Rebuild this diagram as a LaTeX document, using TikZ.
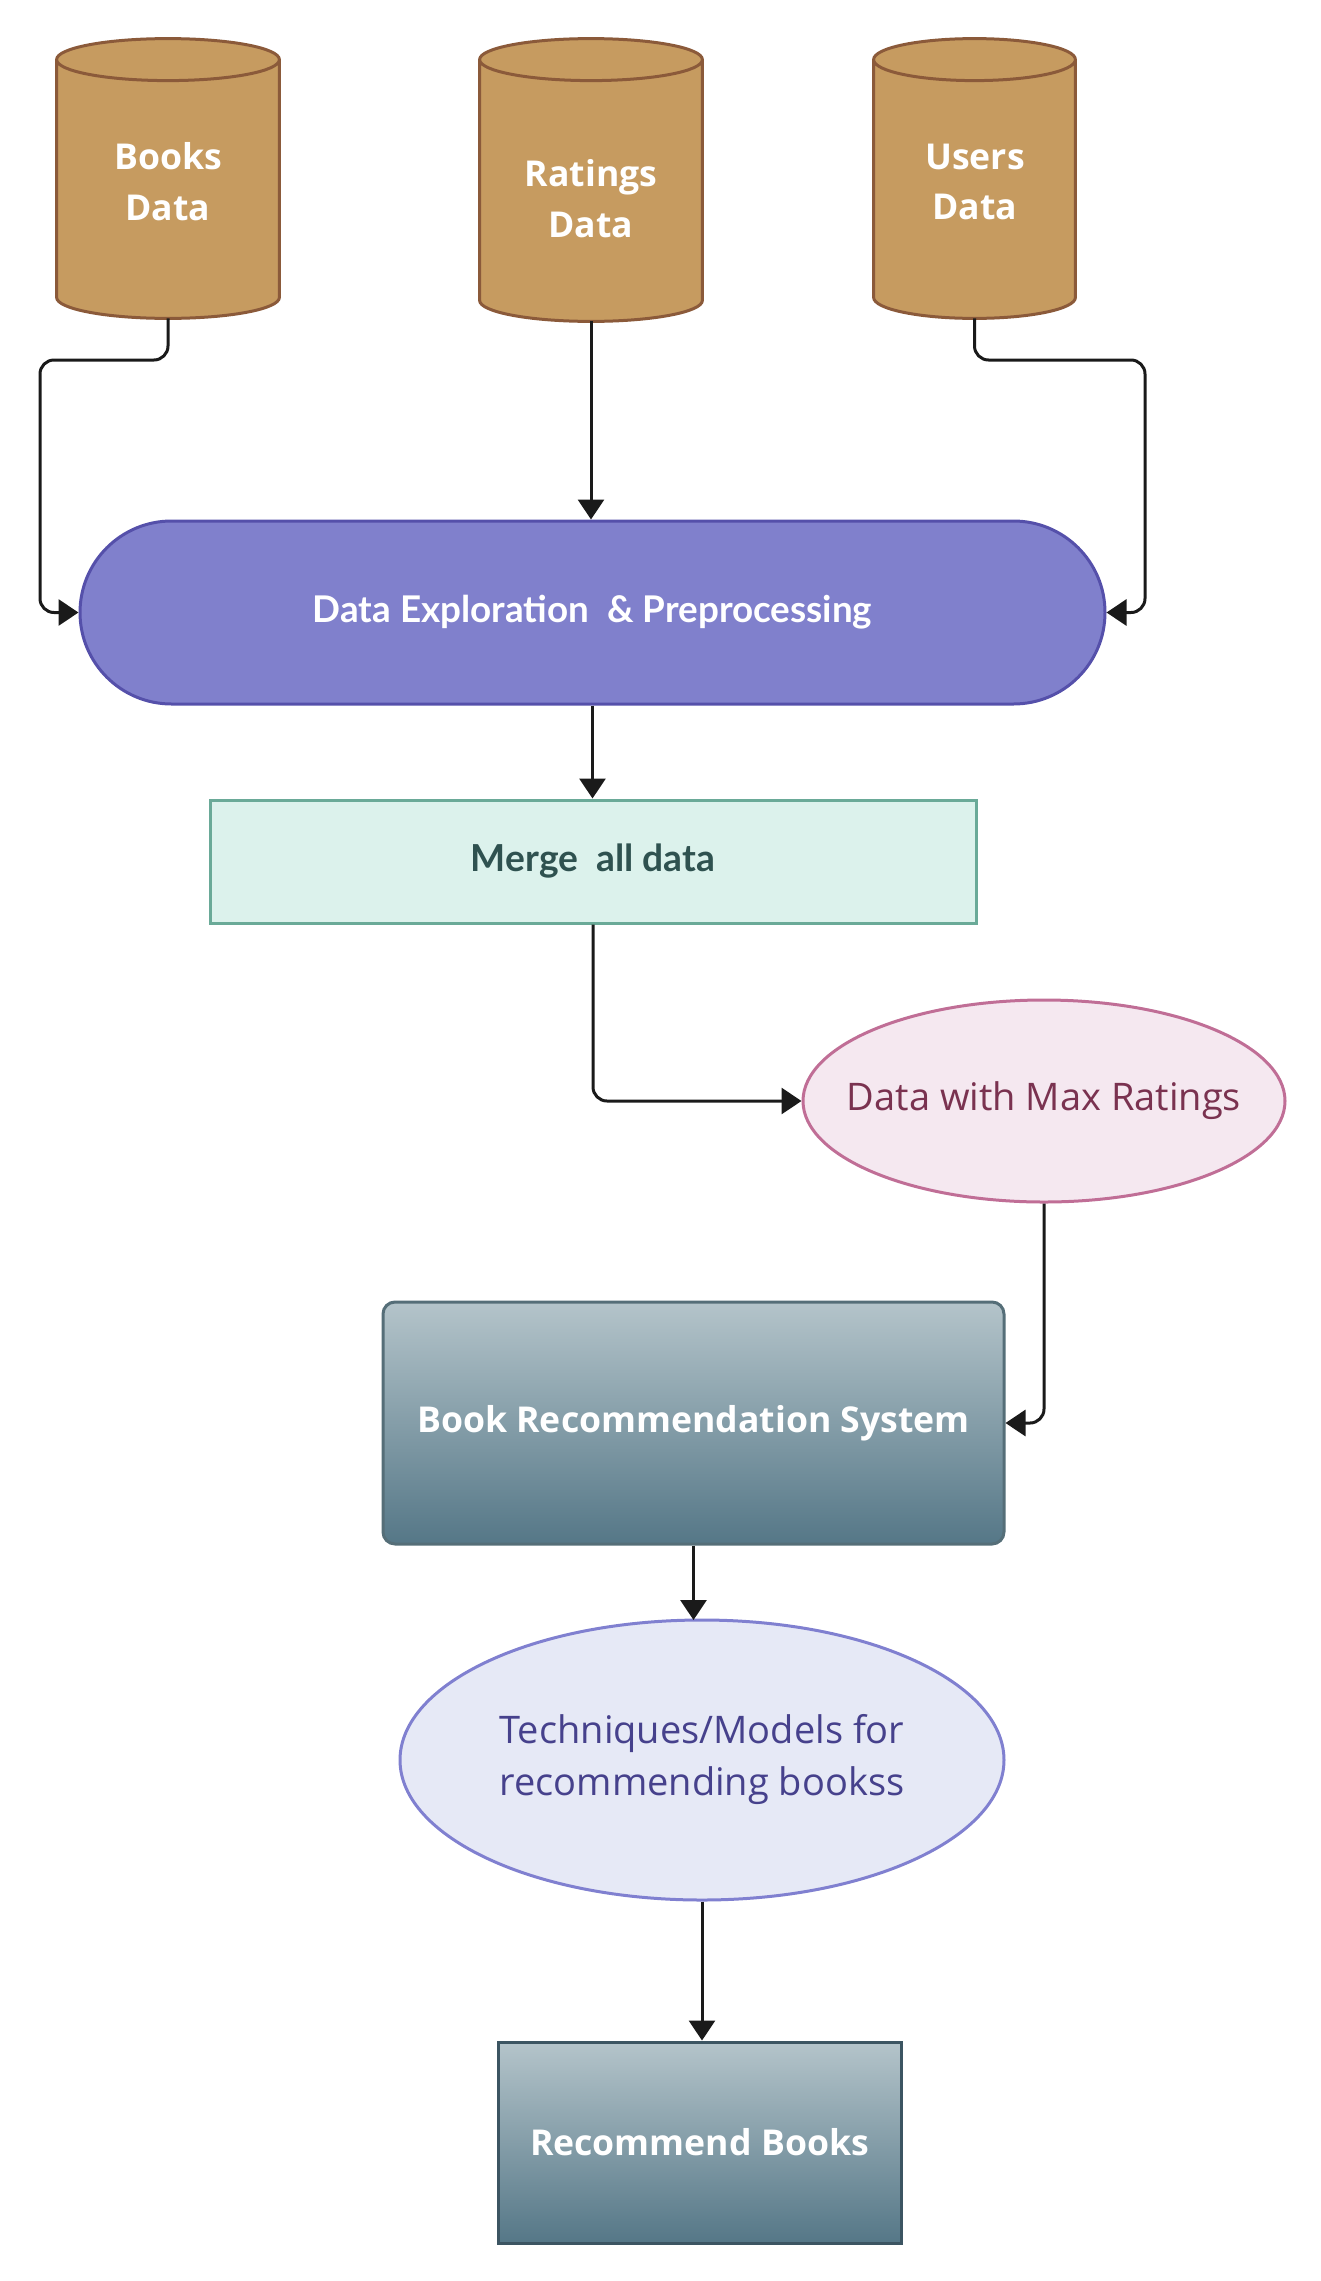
\documentclass[tikz,border=0pt]{standalone}
\usepackage{fontspec}
\setmainfont{Open Sans}
\newcommand\osemi{\bfseries}
\newfontfamily\latofont{Lato}
\usetikzlibrary{shapes.geometric,shapes.misc,arrows.meta,calc}
\definecolor{cylfill}{HTML}{C69B60}
\definecolor{cylline}{HTML}{8B5A3A}
\definecolor{depfill}{HTML}{8080CC}
\definecolor{depline}{HTML}{5550AA}
\definecolor{mgfill}{HTML}{DCF2EC}
\definecolor{mgline}{HTML}{6AAA98}
\definecolor{mgtext}{HTML}{2F5250}
\definecolor{dmfill}{HTML}{F5E8F0}
\definecolor{dmline}{HTML}{C06E96}
\definecolor{dmtext}{HTML}{7A3250}
\definecolor{tqfill}{HTML}{E6E9F6}
\definecolor{tqline}{HTML}{8080D0}
\definecolor{tqtext}{HTML}{46418C}
\definecolor{gtop}{HTML}{B4C4CA}
\definecolor{gbot}{HTML}{557787}
\definecolor{brsline}{HTML}{556E78}
\definecolor{recline}{HTML}{3C5562}
\definecolor{arrowc}{HTML}{1A1A1A}
\tikzset{
  cylbody/.style={rectangle, inner sep=0pt},
  cyltext/.style={text=white, align=center, font=\osemi\fontsize{17.8pt}{25.4pt}\selectfont},
  conn/.style={draw=arrowc, line width=1.5pt, rounded corners=7pt, -{Triangle[length=10pt,width=13pt]}},
  depbox/.style={rounded rectangle, rounded rectangle arc length=180, fill=depfill, draw=depline, line width=1.5pt,
     minimum width=512.5pt, minimum height=91.5pt, inner sep=0pt, text=white, font=\latofont\bfseries\fontsize{18.4pt}{25pt}\selectfont},
  mergebox/.style={rectangle, fill=mgfill, draw=mgline, line width=1.5pt, minimum width=383pt, minimum height=61.5pt,
     inner sep=0pt, text=mgtext, font=\latofont\bfseries\fontsize{18.6pt}{25pt}\selectfont},
  dmbox/.style={ellipse, fill=dmfill, draw=dmline, line width=1.5pt, minimum width=241pt, minimum height=101pt,
     inner sep=0pt},
  dmlab/.style={inner sep=0pt, text=dmtext, font=\fontsize{19pt}{25pt}\selectfont},
  tqbox/.style={ellipse, fill=tqfill, draw=tqline, line width=1.5pt, minimum width=302pt, minimum height=140pt,
     inner sep=0pt},
  tqlab/.style={inner sep=0pt, align=center, text=tqtext, font=\fontsize{19pt}{26pt}\selectfont},
  gradbox/.style={rectangle, top color=gtop, bottom color=gbot, line width=1.5pt, inner sep=0pt,
     text=white, font=\osemi\fontsize{17.8pt}{25pt}\selectfont},
}
\newcommand\drawcyl[1]{%
  \path let \p1=(#1.north west), \p2=(#1.south east), \n1={(\x2-\x1)/2} in
    [fill=cylfill, draw=cylline, line width=1.5pt]
    (\x1,\y1-10.5pt) -- (\x1,\y2+10.5pt)
    arc[start angle=180, end angle=360, x radius=\n1, y radius=10.5pt]
    -- (\x2,\y1-10.5pt)
    arc[start angle=0, end angle=180, x radius=\n1, y radius=10.5pt] -- cycle
    (\x1,\y1-10.5pt) arc[start angle=180, end angle=360, x radius=\n1, y radius=10.5pt];
}
\begin{document}
\begin{tikzpicture}[x=0.5pt, y=-0.5pt]
\useasboundingbox (0,0) rectangle (1321,2281);

% cylinders
\node[cylbody, minimum width=111pt, minimum height=139.5pt] (books) at (168,178.5) {};
\node[cylbody, minimum width=111pt, minimum height=141pt] (ratings) at (591,180) {};
\node[cylbody, minimum width=100.5pt, minimum height=139.5pt] (users) at (974.5,178.5) {};
\drawcyl{books}
\drawcyl{ratings}
\drawcyl{users}
\node[cyltext] (booksT) at (168,182) {Books\\Data};
\node[cyltext] (ratingsT) at (591,199) {Ratings\\Data};
\node[cyltext] (usersT) at (975,182) {Users\\Data};

% main nodes
\node[depbox] (dep) at (592.5,612.5) {Data Exploration\ \ \& Preprocessing};
\node[mergebox] (merge) at (593,861.5) {Merge\ \ all data};
\node[dmbox, label={[dmlab]center:Data with Max Ratings}] (dmr) at (1044,1101) {};
\node[gradbox, draw=brsline, rounded corners=6pt, minimum width=310.5pt, minimum height=121pt] (brs) at (693.5,1423) {Book Recommendation System};
\node[tqbox, label={[tqlab]center:Techniques/Models for\\recommending bookss}] (tq) at (702,1760) {};
\node[gradbox, draw=recline, minimum width=201.5pt, minimum height=100.5pt] (rec) at (699.5,2142.5) {Recommend Books};

% connectors
\draw[conn] (books.south) -- (168,360) -- (40,360) -- (40,612.5) -- (dep.west);
\draw[conn] (ratings.south) -- (dep.north -| ratings.south);
\draw[conn] (users.south) -- (974.5,360) -- (1145,360) -- (1145,612.5) -- (dep.east);
\draw[conn] (dep.south) -- (dep.south |- merge.north);
\draw[conn] (merge.south) -- (593,1101) -- (dmr.west);
\draw[conn] (dmr.south) -- (1044,1423) -- (brs.east);
\draw[conn] (brs.south) -- (693.5,1620);
\draw[conn] (tq.south) -- (tq.south |- rec.north);
\end{tikzpicture}
\end{document}
